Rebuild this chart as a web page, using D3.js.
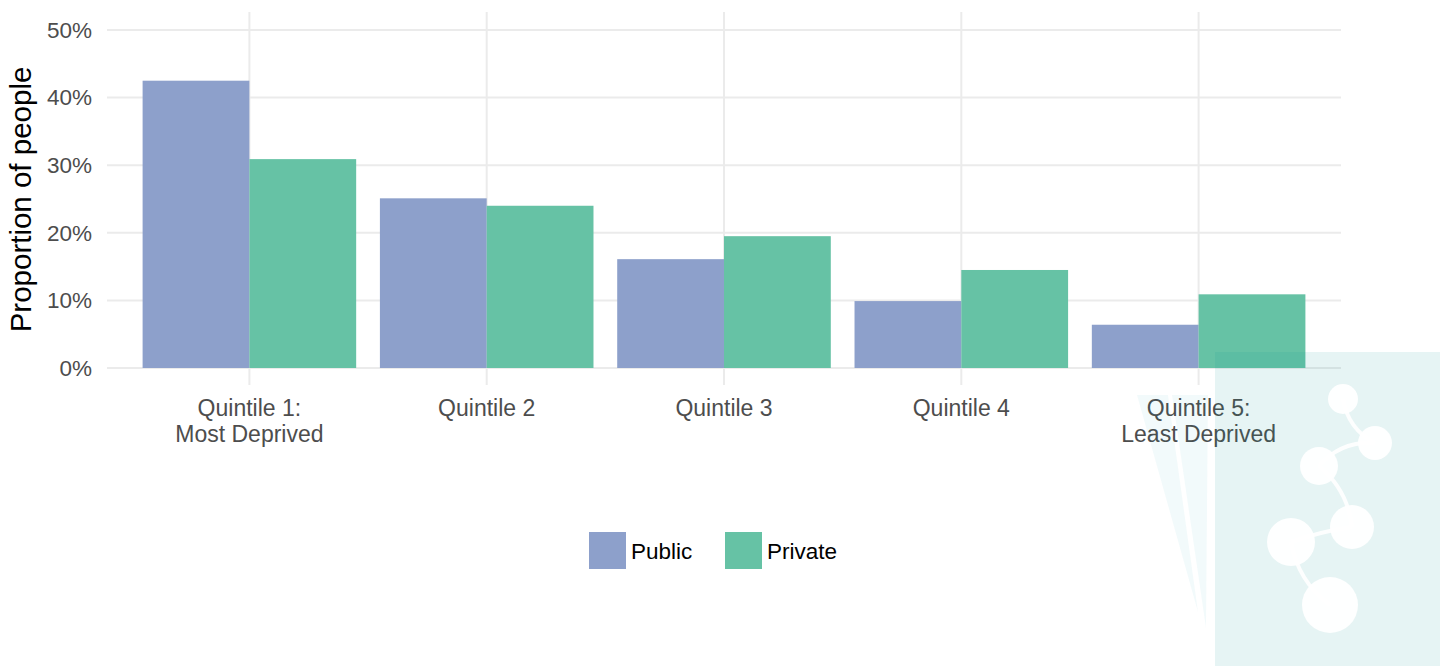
<!DOCTYPE html>
<html>
<head>
<meta charset="utf-8">
<script src="https://cdn.jsdelivr.net/npm/d3@7"></script>
<style>
  body { margin: 0; background: #fff; }
  text { font-family: 'Liberation Sans', Arial, sans-serif; }
</style>
</head>
<body>
<div id="canvas"></div>
<script>
// data
const quintiles = ['Quintile 1:\nMost Deprived', 'Quintile 2', 'Quintile 3', 'Quintile 4', 'Quintile 5:\nLeast Deprived'];
const sectors = ['Public', 'Private'];
const publicShare = [0.425, 0.251, 0.161, 0.099, 0.064];
const privateShare = [0.309, 0.240, 0.195, 0.145, 0.109];
const yTicks = [0, 0.1, 0.2, 0.3, 0.4, 0.5];

const color = { Public: '#8da0cb', Private: '#66c2a5' };

const svgWidth = 1440, svgHeight = 666;
const panel = { left: 107, right: 1341, top: 12, bottom: 385 };

const svg = d3.select('#canvas').append('svg')
  .attr('width', svgWidth)
  .attr('height', svgHeight);

/*
 * scales
 */
const xScale = d3.scaleBand()
  .domain(quintiles)
  .range([panel.left, panel.right])
  .paddingInner(0.1)
  .paddingOuter(0.15);

const subScale = d3.scaleBand()
  .domain(sectors)
  .range([0, xScale.bandwidth()]);

const yScale = d3.scaleLinear()
  .domain([0, 0.5])
  .range([368, 30]);

/*
 * grid
 */
const grid = svg.append('g');
grid.selectAll('.hgrid')
  .data(yTicks)
  .enter().append('line')
  .attr('x1', panel.left).attr('x2', panel.right)
  .attr('y1', d => yScale(d)).attr('y2', d => yScale(d))
  .attr('stroke', '#ebebeb').attr('stroke-width', 2);

grid.selectAll('.vgrid')
  .data(quintiles)
  .enter().append('line')
  .attr('x1', d => xScale(d) + xScale.bandwidth() / 2)
  .attr('x2', d => xScale(d) + xScale.bandwidth() / 2)
  .attr('y1', panel.top).attr('y2', panel.bottom)
  .attr('stroke', '#ebebeb').attr('stroke-width', 2);

/*
 * bars
 */
const rows = quintiles.map((q, i) => ({ q, Public: publicShare[i], Private: privateShare[i] }));

const groups = svg.append('g').selectAll('g')
  .data(rows)
  .enter().append('g')
  .attr('transform', d => `translate(${xScale(d.q)},0)`);

groups.selectAll('rect')
  .data(d => sectors.map(s => ({ s, v: d[s] })))
  .enter().append('rect')
  .attr('x', d => subScale(d.s))
  .attr('width', subScale.bandwidth())
  .attr('y', d => yScale(d.v))
  .attr('height', d => yScale(0) - yScale(d.v))
  .attr('fill', d => color[d.s]);

/*
 * axes
 */
const yAxis = svg.append('g')
  .attr('transform', `translate(${panel.left},0)`)
  .call(d3.axisLeft(yScale).tickValues(yTicks).tickFormat(d3.format('.0%')).tickSize(0).tickPadding(15));
yAxis.select('.domain').remove();
yAxis.selectAll('text')
  .style('font-size', '22.5px')
  .attr('fill', '#4d4d4d')
  .attr('font-family', "'Liberation Sans', Arial, sans-serif");

const xAxis = svg.append('g')
  .attr('transform', `translate(0,${panel.bottom})`)
  .call(d3.axisBottom(xScale).tickSize(0).tickFormat(''));
xAxis.select('.domain').remove();
xAxis.selectAll('.tick').each(function(d) {
  const t = d3.select(this).append('text')
    .attr('fill', '#4d4d4d')
    .attr('text-anchor', 'middle')
    .style('font-size', '23px');
  d.split('\n').forEach((line, i) => {
    t.append('tspan').attr('x', 0).attr('y', 31 + i * 26).text(line);
  });
});

svg.append('text')
  .attr('transform', `translate(31,${(panel.top + panel.bottom) / 2 + 1}) rotate(-90)`)
  .attr('text-anchor', 'middle')
  .attr('fill', '#000')
  .style('font-size', '29.5px')
  .text('Proportion of people');

/*
 * legend
 */
const legendItems = [
  { s: 'Public', x: 589 },
  { s: 'Private', x: 725 }
];
const legend = svg.append('g');
legend.selectAll('rect')
  .data(legendItems)
  .enter().append('rect')
  .attr('x', d => d.x).attr('y', 532)
  .attr('width', 37).attr('height', 37)
  .attr('fill', d => color[d.s]);
legend.selectAll('text')
  .data(legendItems)
  .enter().append('text')
  .attr('x', d => d.x + 42).attr('y', 559)
  .attr('fill', '#000')
  .style('font-size', '22.5px')
  .text(d => d.s);

/*
 * watermark logo, bottom right
 */
const logo = svg.append('g');
const tint = 'rgb(5,160,170)';
[
  [[1137, 395], [1168, 395], [1198, 612]],
  [[1172, 395], [1208, 395], [1206, 628]]
].forEach(p => {
  logo.append('path')
    .attr('d', d3.line()(p) + 'Z')
    .attr('fill', tint).attr('opacity', 0.05);
});
logo.append('rect')
  .attr('x', 1215).attr('y', 352)
  .attr('width', 225).attr('height', 314)
  .attr('fill', 'rgb(5,145,145)').attr('opacity', 0.1);

const nodes = [[1343, 399, 15], [1375, 443, 17], [1319, 466, 19], [1352, 527, 22], [1291, 542, 24], [1330, 605, 28]];
const links = [[0, 1, 0.25], [1, 2, 0.25], [2, 3, -0.2], [3, 4, 0.05], [4, 5, 0.2]];
links.forEach(([a, b, bend]) => {
  const [x1, y1] = nodes[a], [x2, y2] = nodes[b];
  const mx = (x1 + x2) / 2 - (y2 - y1) * bend, my = (y1 + y2) / 2 + (x2 - x1) * bend;
  logo.append('path')
    .attr('d', `M${x1},${y1} Q${mx},${my} ${x2},${y2}`)
    .attr('fill', 'none').attr('stroke', '#fff').attr('stroke-width', 4).attr('opacity', 0.9);
});
logo.selectAll('circle')
  .data(nodes)
  .enter().append('circle')
  .attr('cx', d => d[0]).attr('cy', d => d[1]).attr('r', d => d[2])
  .attr('fill', '#fff').attr('opacity', 0.95);
</script>
</body>
</html>
